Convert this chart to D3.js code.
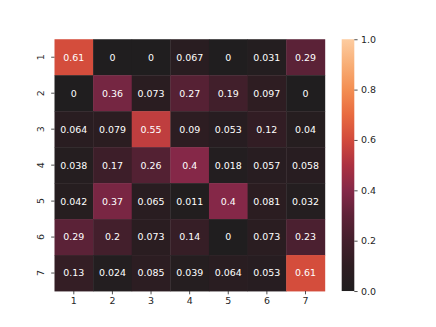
<!DOCTYPE html>
<html><head><meta charset="utf-8">
<script src="https://cdn.jsdelivr.net/npm/d3@7"></script>
<style>body{margin:0;background:#fff}svg{display:block}text{font-family:"DejaVu Sans",sans-serif}</style>
</head><body><svg id="c" width="436" height="327"></svg>
<script>
const rowLabels = ["1","2","3","4","5","6","7"];
const colLabels = ["1","2","3","4","5","6","7"];
const values = [
  [0.61, 0, 0, 0.067, 0, 0.031, 0.29],
  [0, 0.36, 0.073, 0.27, 0.19, 0.097, 0],
  [0.064, 0.079, 0.55, 0.09, 0.053, 0.12, 0.04],
  [0.038, 0.17, 0.26, 0.4, 0.018, 0.057, 0.058],
  [0.042, 0.37, 0.065, 0.011, 0.4, 0.081, 0.032],
  [0.29, 0.2, 0.073, 0.14, 0, 0.073, 0.23],
  [0.13, 0.024, 0.085, 0.039, 0.064, 0.053, 0.61]
];
const cbTicks = [0, 0.2, 0.4, 0.6, 0.8, 1.0];
const cmapStops = ["#201e1f","#2e1d22","#431f2c","#5e2238","#852848","#ac3141","#d24a3c","#e86a3f","#f38e52","#f8ae76","#fdcca0"];

const svg = d3.select("#c");
const L = 54.5, R = 324.8, T = 39.24, B = 291.03;
const x = d3.scaleBand().domain(colLabels).range([L, R]);
const y = d3.scaleBand().domain(rowLabels).range([T, B]);
const color = d3.scaleLinear().domain(d3.range(cmapStops.length).map(i => i/(cmapStops.length-1))).range(cmapStops).interpolate(d3.interpolateRgb).clamp(true);
const fs = 9.45;

const cells = [];
values.forEach((row, i) => row.forEach((v, j) => cells.push({r: rowLabels[i], c: colLabels[j], v})));
const fmt = v => v === 0 ? "0" : String(+d3.format(".2g")(v));

svg.append("g").selectAll("rect").data(cells).join("rect")
  .attr("x", d => x(d.c)).attr("y", d => y(d.r))
  .attr("width", x.bandwidth() + 0.4).attr("height", y.bandwidth() + 0.4)
  .attr("fill", d => color(d.v));
svg.append("g").selectAll("text").data(cells).join("text")
  .attr("x", d => x(d.c) + x.bandwidth()/2).attr("y", d => y(d.r) + y.bandwidth()/2)
  .attr("text-anchor", "middle").attr("dy", "0.36em")
  .attr("font-size", fs).attr("fill", "#fff")
  .text(d => fmt(d.v));

// x axis
const xa = svg.append("g").attr("transform", `translate(0,${B})`).call(d3.axisBottom(x).tickSize(3.3).tickPadding(3.3));
xa.select(".domain").remove();
xa.selectAll("text").attr("font-size", fs).attr("fill", "#262626").attr("font-family", "DejaVu Sans");
xa.selectAll("line").attr("stroke", "#262626").attr("stroke-width", 0.8);
// y axis
const ya = svg.append("g").attr("transform", `translate(${L},0)`).call(d3.axisLeft(y).tickSize(3.3).tickPadding(3.3));
ya.select(".domain").remove();
ya.selectAll("line").attr("stroke", "#262626").attr("stroke-width", 0.8);
ya.selectAll("text").attr("font-size", fs).attr("fill", "#262626").attr("font-family", "DejaVu Sans")
  .attr("x", null).attr("dy", null).attr("text-anchor", "middle")
  .attr("transform", "translate(-10.3,0) rotate(-90)");

// colorbar
const cbL = 341.7, cbW = 12.6;
const cy = d3.scaleLinear().domain([0, 1]).range([B, T]);
const defs = svg.append("defs");
const grad = defs.append("linearGradient").attr("id", "g").attr("x1", 0).attr("y1", 1).attr("x2", 0).attr("y2", 0);
cmapStops.forEach((c, i) => grad.append("stop").attr("offset", i/(cmapStops.length-1)).attr("stop-color", c));
svg.append("rect").attr("x", cbL).attr("y", T).attr("width", cbW).attr("height", B - T).attr("fill", "url(#g)");
const ca = svg.append("g").attr("transform", `translate(${cbL + cbW},0)`).call(d3.axisRight(cy).tickValues(cbTicks).tickFormat(d3.format(".1f")).tickSize(3.3).tickPadding(3.3));
ca.select(".domain").remove();
ca.selectAll("line").attr("stroke", "#262626").attr("stroke-width", 0.8);
ca.selectAll("text").attr("font-size", fs).attr("fill", "#262626").attr("font-family", "DejaVu Sans");
</script></body></html>
